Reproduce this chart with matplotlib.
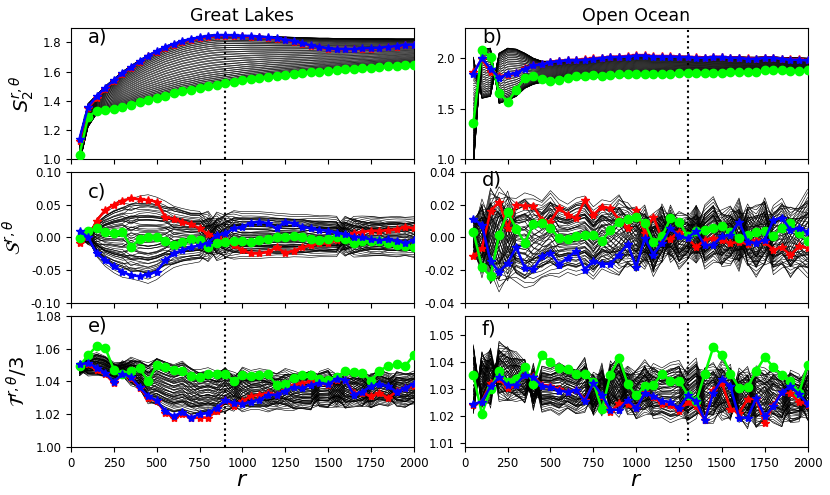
import numpy as np
import matplotlib
matplotlib.use('Agg')
import matplotlib.pyplot as plt

# separation r (every 50 up to 2000)
r = np.arange(50, 2001, 50)

# ---------------- panel a: Great Lakes S2 ----------------
a_blue = [1.14,1.36,1.43,1.49,1.54,1.59,1.63,1.67,1.71,1.74,1.77,1.79,1.81,1.825,1.835,1.845,1.85,1.85,1.848,1.845,
          1.845,1.84,1.835,1.83,1.82,1.81,1.795,1.78,1.77,1.76,1.755,1.755,1.755,1.76,1.76,1.765,1.77,1.775,1.785,1.785]
a_red = [1.12,1.35,1.42,1.48,1.535,1.585,1.625,1.665,1.705,1.735,1.765,1.785,1.805,1.82,1.83,1.84,1.845,1.846,1.845,1.842,
         1.84,1.836,1.832,1.826,1.816,1.806,1.792,1.778,1.766,1.757,1.752,1.752,1.753,1.757,1.758,1.762,1.767,1.772,1.781,1.782]
a_green = [1.03,1.29,1.33,1.335,1.34,1.355,1.37,1.39,1.405,1.42,1.435,1.45,1.465,1.475,1.49,1.50,1.51,1.52,1.53,1.54,
           1.548,1.556,1.564,1.57,1.577,1.583,1.59,1.595,1.60,1.605,1.61,1.615,1.62,1.624,1.628,1.632,1.636,1.64,1.643,1.645]
a_hi = [1.15,1.38,1.44,1.50,1.55,1.60,1.64,1.68,1.715,1.745,1.775,1.795,1.815,1.83,1.84,1.85,1.855,1.855,1.852,1.85,
        1.848,1.845,1.842,1.84,1.838,1.836,1.834,1.832,1.83,1.83,1.828,1.828,1.827,1.827,1.826,1.826,1.826,1.825,1.825,1.825]
a_lo = [0.97,1.22,1.31,1.325,1.335,1.35,1.365,1.385,1.40,1.415,1.43,1.445,1.46,1.47,1.485,1.495,1.505,1.515,1.525,1.535,
        1.543,1.551,1.559,1.565,1.572,1.578,1.585,1.59,1.595,1.60,1.605,1.61,1.615,1.619,1.623,1.627,1.631,1.635,1.638,1.64]

# ---------------- panel b: Open Ocean S2 ----------------
b_blue = [1.845,2.0,1.895,1.806,1.839,1.852,1.895,1.928,1.937,1.96,1.97,1.977,1.977,1.984,1.993,2.0,2.01,2.01,2.016,2.026,
          2.026,2.016,2.016,2.016,2.01,2.01,2.003,2.003,2.01,2.01,2.003,2.003,1.993,1.993,2.003,2.003,1.993,1.984,1.984,1.977]
b_red = [1.86,1.99,1.86,1.82,1.835,1.85,1.9,1.93,1.94,1.965,1.975,1.98,1.982,1.99,1.998,2.005,2.014,2.015,2.02,2.03,
         2.028,2.02,2.02,2.018,2.014,2.012,2.008,2.006,2.014,2.012,2.006,2.005,1.997,1.996,2.006,2.005,1.996,1.988,1.987,1.98]
b_green = [1.352,2.082,2.01,1.655,1.566,1.688,1.806,1.819,1.796,1.773,1.786,1.806,1.819,1.819,1.829,1.819,1.829,1.839,1.839,1.839,
           1.839,1.839,1.839,1.845,1.852,1.852,1.852,1.852,1.852,1.852,1.862,1.862,1.862,1.862,1.878,1.885,1.878,1.872,1.872,1.878]
b_hi = [2.01,2.09,2.10,2.05,2.10,2.09,2.05,2.0,1.97,1.97,1.975,1.985,1.988,1.993,2.0,2.007,2.015,2.018,2.022,2.03,
        2.03,2.025,2.024,2.023,2.02,2.02,2.015,2.015,2.018,2.018,2.014,2.013,2.01,2.01,2.013,2.013,2.008,2.004,2.003,2.0]
b_lo = [0.90,1.60,1.62,1.55,1.58,1.62,1.70,1.74,1.76,1.76,1.775,1.79,1.80,1.805,1.81,1.81,1.815,1.82,1.825,1.827,
        1.83,1.832,1.834,1.838,1.842,1.845,1.847,1.848,1.85,1.85,1.855,1.857,1.858,1.86,1.866,1.87,1.87,1.868,1.868,1.87]

# ---------------- panel c: Great Lakes S ----------------
c_red = [-0.0092,0.0,0.0255,0.042,0.05,0.056,0.0597,0.0582,0.057,0.0546,0.0316,0.0276,0.024,0.0204,0.0138,0.0051,0.0,-0.0041,-0.0117,-0.0194,
         -0.0245,-0.0245,-0.0219,-0.0153,-0.0235,-0.0204,-0.0153,-0.0117,-0.0092,-0.0092,-0.0041,0.0036,0.0061,0.0087,0.0102,0.0102,0.0112,0.0122,0.0163,0.0138]
c_blue = [0.0102,0.0,-0.0245,-0.0347,-0.0439,-0.0526,-0.0577,-0.0592,-0.0561,-0.0526,-0.0347,-0.0245,-0.0194,-0.0153,-0.0117,-0.0082,0.0036,0.0061,0.0138,0.0163,
          0.0224,0.024,0.0214,0.0138,0.024,0.0214,0.0163,0.0138,0.0112,0.0102,0.0071,0.0051,0.001,0.0,-0.0031,-0.0041,-0.0031,-0.0051,-0.0082,-0.0041]
c_green = [-0.0015,0.0102,0.0138,0.0087,0.0071,0.0087,-0.0143,-0.0031,0.0,0.0,-0.0051,-0.0117,-0.0066,-0.0031,-0.0041,-0.0153,-0.0092,-0.0066,-0.0051,-0.0051,
           -0.0066,-0.0041,-0.0031,0.0,0.001,0.002,0.0,-0.0031,-0.0041,-0.0031,0.0,-0.0031,-0.0092,-0.0051,-0.0051,-0.0051,-0.0082,-0.0117,-0.0133,-0.0153]
c_hi = [0.012,0.012,0.03,0.045,0.055,0.062,0.065,0.068,0.07,0.066,0.06,0.055,0.05,0.046,0.045,0.042,0.04,0.04,0.042,0.04,
        0.04,0.04,0.039,0.038,0.037,0.036,0.036,0.035,0.034,0.034,0.033,0.034,0.035,0.034,0.035,0.034,0.033,0.034,0.033,0.033]
c_lo = [-0.012,-0.012,-0.03,-0.045,-0.055,-0.062,-0.066,-0.068,-0.072,-0.066,-0.056,-0.05,-0.045,-0.042,-0.04,-0.038,-0.036,-0.035,-0.035,-0.034,
        -0.034,-0.034,-0.033,-0.033,-0.033,-0.032,-0.032,-0.032,-0.031,-0.031,-0.031,-0.03,-0.031,-0.03,-0.031,-0.031,-0.03,-0.031,-0.03,-0.031]

# ---------------- panel d: Open Ocean S ----------------
d_red = [-0.0115,-0.0065,0.016,0.0218,0.006,0.02,0.0194,0.0194,0.0105,0.0097,0.0178,0.0137,0.0117,0.0228,0.0137,0.0188,0.0178,0.0107,0.0057,0.0168,
         0.0026,0.0127,-0.0004,-0.0008,0.0036,-0.0004,-0.0059,-0.0014,-0.0004,-0.0014,-0.0034,-0.0028,-0.004,-0.0014,-0.0028,-0.0075,-0.006,-0.0109,-0.0055,-0.0065]
d_blue = [0.0113,0.0077,-0.0145,-0.021,-0.0156,-0.0059,-0.0186,-0.0192,-0.0115,-0.0095,-0.0166,-0.0125,-0.0081,-0.0196,-0.0145,-0.0161,-0.016,-0.0105,-0.004,-0.018,
          -0.0004,-0.0105,-0.0034,0.0057,0.0006,-0.0004,0.004,-0.0048,-0.0044,0.0006,0.0016,0.0097,-0.0028,-0.0034,-0.0014,0.0107,0.0121,0.0046,0.0057,0.0036]
d_green = [0.0036,-0.0182,-0.0236,0.0015,0.0154,0.0054,-0.0034,0.008,0.0087,0.0057,-0.0004,-0.0008,0.0006,0.0012,0.0016,-0.002,0.0046,0.0097,0.0113,0.0127,
           0.0087,-0.0028,0.0006,0.0117,0.0097,0.0006,0.004,0.0046,0.0057,0.0067,0.0036,-0.0004,0.0016,0.0032,0.004,0.0006,0.0057,0.0087,0.0026,-0.0024]
d_hi = [0.012,0.025,0.032,0.033,0.03,0.026,0.03,0.027,0.024,0.03,0.025,0.022,0.026,0.027,0.02,0.025,0.023,0.028,0.022,0.02,
        0.02,0.017,0.022,0.02,0.016,0.015,0.022,0.02,0.025,0.018,0.02,0.025,0.022,0.02,0.026,0.02,0.025,0.02,0.022,0.03]
d_lo = [-0.012,-0.025,-0.03,-0.034,-0.03,-0.028,-0.032,-0.03,-0.026,-0.024,-0.025,-0.022,-0.024,-0.022,-0.026,-0.02,-0.022,-0.025,-0.02,-0.022,
        -0.02,-0.025,-0.018,-0.016,-0.02,-0.015,-0.018,-0.02,-0.016,-0.02,-0.018,-0.022,-0.02,-0.025,-0.02,-0.024,-0.021,-0.026,-0.022,-0.026]

# ---------------- panel e: Great Lakes T/3 ----------------
e_blue = [1.0504,1.0514,1.0484,1.0453,1.0398,1.0447,1.0427,1.0365,1.031,1.0284,1.0218,1.0188,1.0214,1.0178,1.0202,1.0208,1.0239,1.0284,1.027,1.0263,
          1.0276,1.029,1.0316,1.032,1.0345,1.0365,1.0361,1.0378,1.0392,1.0382,1.0418,1.0412,1.032,1.0337,1.0371,1.0382,1.0371,1.0337,1.0361,1.0386]
e_red = [1.050,1.0505,1.047,1.0445,1.039,1.0445,1.042,1.036,1.030,1.028,1.021,1.0175,1.020,1.0175,1.018,1.018,1.022,1.0284,1.025,1.028,
         1.031,1.032,1.033,1.032,1.035,1.038,1.039,1.040,1.039,1.038,1.041,1.041,1.033,1.033,1.031,1.033,1.030,1.034,1.036,1.037]
e_green = [1.0494,1.0561,1.0616,1.0606,1.0473,1.0447,1.0463,1.048,1.0402,1.0498,1.0488,1.0473,1.0467,1.0433,1.0427,1.0443,1.0447,1.0447,1.0402,1.0439,
           1.0433,1.0439,1.0443,1.0378,1.0386,1.0422,1.0439,1.0439,1.0418,1.0412,1.0427,1.0463,1.0459,1.0453,1.0402,1.0467,1.0494,1.0504,1.0494,1.0561]
e_hi = [1.053,1.056,1.058,1.056,1.052,1.053,1.055,1.054,1.052,1.056,1.054,1.052,1.054,1.05,1.048,1.049,1.047,1.05,1.046,1.049,
        1.047,1.048,1.047,1.046,1.048,1.047,1.046,1.048,1.047,1.049,1.046,1.047,1.046,1.047,1.046,1.048,1.046,1.047,1.046,1.047]
e_lo = [1.043,1.043,1.043,1.042,1.04,1.042,1.037,1.034,1.025,1.024,1.021,1.019,1.02,1.018,1.018,1.019,1.018,1.02,1.021,1.021,
        1.022,1.022,1.021,1.022,1.022,1.021,1.022,1.021,1.023,1.022,1.023,1.022,1.024,1.023,1.022,1.025,1.024,1.024,1.023,1.025]

# ---------------- panel f: Open Ocean T/3 ----------------
f_red = [1.0242,1.0254,1.0323,1.0339,1.0304,1.0314,1.0354,1.0348,1.0317,1.0311,1.030,1.0289,1.0298,1.0261,1.0319,1.0273,1.0215,1.0248,1.0245,1.0229,
         1.0289,1.027,1.0245,1.0242,1.022,1.0252,1.0236,1.0186,1.0298,1.0323,1.0227,1.0211,1.0264,1.0264,1.0174,1.0242,1.0289,1.0285,1.0254,1.0242]
f_blue = [1.0245,1.0254,1.031,1.0344,1.0314,1.0317,1.0354,1.0344,1.0313,1.0307,1.0295,1.029,1.0298,1.0255,1.0323,1.0277,1.0224,1.0224,1.0261,1.0229,
          1.0286,1.0273,1.0257,1.0252,1.0229,1.0277,1.0255,1.0186,1.0286,1.0339,1.031,1.0195,1.0195,1.0267,1.0199,1.0236,1.0289,1.031,1.0282,1.0245]
f_green = [1.0352,1.0208,1.030,1.0369,1.0326,1.0339,1.0382,1.032,1.0426,1.040,1.0378,1.0376,1.0357,1.0356,1.0326,1.0225,1.0354,1.0416,1.032,1.0277,
           1.0311,1.0315,1.0357,1.0332,1.0332,1.028,1.0255,1.0357,1.0456,1.0426,1.0357,1.0305,1.0307,1.0367,1.0419,1.0382,1.0351,1.0332,1.0286,1.0388]
f_hi = [1.048,1.045,1.047,1.048,1.047,1.044,1.042,1.04,1.039,1.038,1.04,1.039,1.038,1.042,1.037,1.04,1.041,1.043,1.039,1.038,
        1.041,1.04,1.038,1.04,1.041,1.039,1.042,1.039,1.04,1.041,1.04,1.038,1.039,1.04,1.038,1.039,1.037,1.038,1.036,1.04]
f_lo = [1.019,1.022,1.022,1.025,1.024,1.025,1.024,1.022,1.021,1.022,1.02,1.022,1.02,1.021,1.019,1.02,1.02,1.019,1.02,1.018,
        1.02,1.018,1.019,1.017,1.018,1.016,1.018,1.016,1.017,1.018,1.017,1.017,1.015,1.014,1.016,1.017,1.015,1.016,1.017,1.017]


def bundle(ax, hi, lo, red, blue, green, k, vary, n=64):
    hi, lo = np.asarray(hi), np.asarray(lo)
    red, blue, green = np.asarray(red), np.asarray(blue), np.asarray(green)
    mid = 0.5 * (hi + lo)
    half = 0.5 * (hi - lo)
    alpha = np.arctan2(k * (green - 0.5 * (red + blue)), red - blue)
    for j in range(n):
        th = 2 * np.pi * j / n
        amp = 1.0 if not vary else 0.4 + 0.6 * ((j * 29) % n) / (n - 1)
        ax.plot(r, mid + half * amp * np.cos(th - alpha), color='k', lw=0.42, zorder=2)


def colored(ax, red, blue, green):
    ax.plot(r, red, '-*', color='red', lw=1.8, ms=6, zorder=3)
    ax.plot(r, green, '-o', color='lime', lw=1.8, ms=6, zorder=4)
    ax.plot(r, blue, '-*', color='blue', lw=1.8, ms=6, zorder=5)


fig = plt.figure(figsize=(8.3, 4.95), dpi=100)
lefts = [0.0855, 0.560]
bottoms = [0.679, 0.388, 0.097]
W, H = 0.413, 0.2646

panels = [
    (0, 0, 'a)', a_hi, a_lo, a_red, a_blue, a_green, 1.0, False, (1.0, 1.9), [1.0, 1.2, 1.4, 1.6, 1.8], 900, (0.0, 0.972), 0.93),
    (1, 0, 'b)', b_hi, b_lo, b_red, b_blue, b_green, 1.0, False, (1.0, 2.3), [1.0, 1.5, 2.0], 1300, (0.0, 1.0), 0.93),
    (0, 1, 'c)', c_hi, c_lo, c_red, c_blue, c_green, 1.0, True, (-0.1, 0.1), [-0.10, -0.05, 0.0, 0.05, 0.10], 900, (0.0, 1.0), 0.85),
    (1, 1, 'd)', d_hi, d_lo, d_red, d_blue, d_green, 1.0, True, (-0.04, 0.04), [-0.04, -0.02, 0.0, 0.02, 0.04], 1300, (0.0, 1.0), 0.94),
    (0, 2, 'e)', e_hi, e_lo, e_red, e_blue, e_green, 0.3, True, (1.0, 1.08), [1.00, 1.02, 1.04, 1.06, 1.08], 900, (0.0, 1.0), 0.92),
    (1, 2, 'f)', f_hi, f_lo, f_red, f_blue, f_green, 0.2, True, (1.0086, 1.0571), [1.01, 1.02, 1.03, 1.04, 1.05], 1300, (0.047, 0.963), 0.90),
]

ylabels = {0: r'$S_2^{r,\theta}$', 1: r'$\mathcal{S}^{r,\theta}$', 2: r'$\mathcal{T}^{r,\theta}/3$'}
fmt = {'a)': '%.1f', 'b)': '%.1f', 'c)': '%.2f', 'd)': '%.2f', 'e)': '%.2f', 'f)': '%.2f'}

for col, row, lab, hi, lo, red, blue, green, k, vary, ylim, yt, xv, vfrac, ty in panels:
    ax = fig.add_axes([lefts[col], bottoms[row], W, H])
    ax.axvline(xv, ymin=vfrac[0], ymax=vfrac[1], color='k', ls=':', lw=1.5, zorder=2.5)
    bundle(ax, hi, lo, red, blue, green, k, vary)
    colored(ax, red, blue, green)
    ax.set_xlim(0, 2000)
    ax.set_ylim(*ylim)
    ax.set_xticks(np.arange(0, 2001, 250))
    ax.set_yticks(yt)
    ax.yaxis.set_major_formatter(matplotlib.ticker.FormatStrFormatter(fmt[lab]))
    ax.tick_params(labelsize=8.5)
    if row < 2:
        ax.tick_params(labelbottom=False)
    else:
        ax.set_xlabel(r'$r$', fontsize=16, labelpad=0)
    if col == 0:
        ax.set_ylabel(ylabels[row], fontsize=14)
    if row == 0:
        ax.set_title('Great Lakes' if col == 0 else 'Open Ocean', fontsize=12.5, pad=5)
    ax.text(0.05, ty, lab, transform=ax.transAxes, fontsize=14, ha='left', va='center', zorder=6)

fig.savefig('out.png', dpi=100)
